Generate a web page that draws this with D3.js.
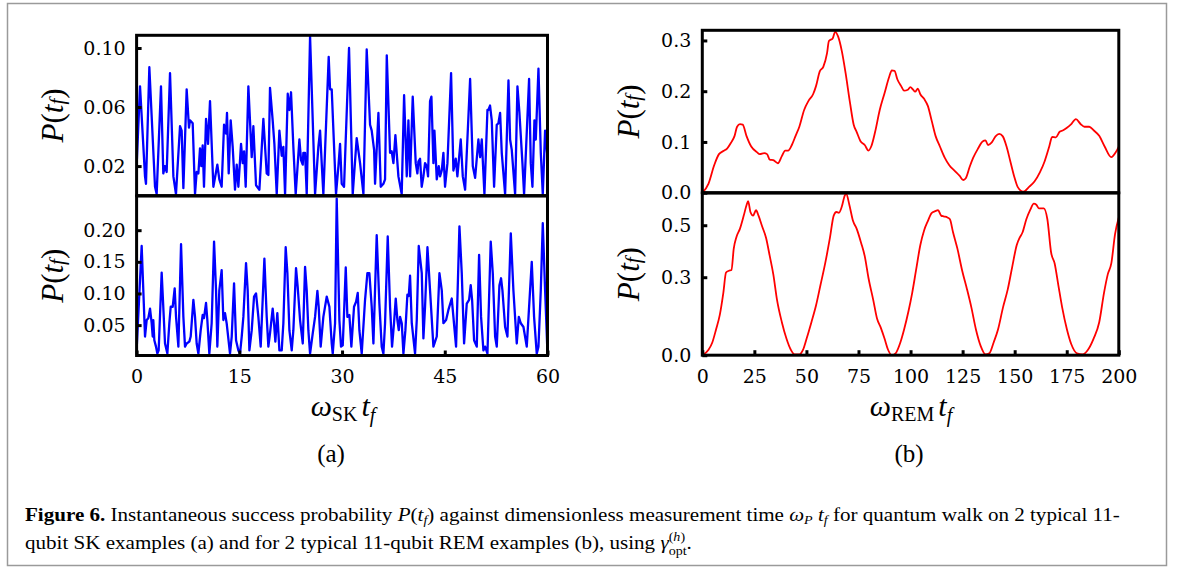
<!DOCTYPE html>
<html><head><meta charset="utf-8">
<script src="https://cdn.jsdelivr.net/npm/d3@7"></script>
<style>
html,body{margin:0;padding:0;background:#fff;}
svg{display:block;}
</style></head>
<body>
<svg id="fig" width="1182" height="573"></svg>
<script>
// ---------- DATA ----------
// (a) top: SK example 1
const tA1 = [0.00,0.50,1.23,1.37,1.86,2.69,2.93,3.56,3.90,4.15,4.39,4.88,5.37,5.75,6.34,6.58,6.83,7.31,7.65,7.80,8.19,8.53,8.77,9.02,9.26,9.45,9.65,9.84,10.14,10.43,10.72,11.21,11.60,11.79,12.08,12.42,12.77,13.06,13.20,13.45,13.74,14.03,14.37,14.62,14.86,15.25,15.49,15.69,15.93,16.32,16.81,17.05,17.44,17.93,18.51,19.00,19.24,19.48,19.87,20.12,20.46,20.85,21.19,21.43,21.68,22.07,22.31,22.55,22.89,23.23,23.77,24.01,24.26,24.35,24.60,24.84,25.33,26.06,26.54,26.79,27.03,27.27,28.05,28.25,28.49,29.12,29.47,29.71,29.95,30.29,31.02,31.56,32.14,32.63,33.12,33.60,34.09,34.33,34.68,34.82,35.31,35.65,36.04,36.28,36.53,37.01,37.25,37.50,37.79,38.23,38.71,39.06,39.45,39.69,39.94,40.32,40.76,41.00,41.15,41.39,41.63,41.88,42.12,42.37,42.56,42.85,43.05,43.34,43.49,43.83,44.12,44.31,44.56,44.80,45.04,45.39,45.92,46.26,46.60,46.84,47.33,47.63,47.97,48.70,49.09,49.43,49.91,50.16,50.40,50.79,51.23,51.37,51.61,51.86,52.20,52.59,52.83,53.08,53.32,53.81,54.30,54.54,54.78,55.27,55.61,55.90,56.34,56.58,57.31,57.56,57.80,58.09,58.29,58.68,59.02,59.31,59.65,60.00];
const pA1 = [0.020,0.074,0.013,0.008,0.087,0.006,0.001,0.074,0.015,0.020,0.016,0.083,0.013,0.001,0.047,0.044,0.005,0.072,0.046,0.051,0.049,0.001,0.016,0.015,0.032,0.020,0.034,0.006,0.052,0.035,0.064,0.006,0.016,0.021,0.011,0.006,0.048,0.042,0.056,0.015,0.051,0.033,0.004,0.021,0.006,0.035,0.022,0.030,0.006,0.074,0.026,0.047,0.007,0.004,0.052,0.015,0.014,0.073,0.051,0.035,0.001,0.044,0.027,0.033,0.001,0.069,0.058,0.070,0.033,0.001,0.038,0.024,0.021,0.029,0.029,0.001,0.108,0.001,0.033,0.044,0.022,0.001,0.094,0.072,0.072,0.001,0.020,0.035,0.008,0.006,0.100,0.001,0.039,0.022,0.001,0.099,0.048,0.044,0.031,0.008,0.056,0.006,0.008,0.011,0.095,0.029,0.030,0.022,0.041,0.013,0.001,0.068,0.013,0.051,0.013,0.067,0.022,0.015,0.023,0.025,0.006,0.013,0.022,0.020,0.013,0.064,0.067,0.022,0.044,0.011,0.020,0.013,0.017,0.029,0.006,0.022,0.083,0.017,0.025,0.013,0.038,0.013,0.004,0.079,0.020,0.012,0.038,0.026,0.038,0.001,0.058,0.058,0.061,0.051,0.006,0.048,0.049,0.056,0.029,0.001,0.078,0.038,0.031,0.001,0.074,0.056,0.022,0.001,0.079,0.022,0.006,0.051,0.038,0.086,0.029,0.001,0.044,0.026];

// (a) bottom: SK example 2
const tA2 = [0.00,0.74,1.23,1.47,1.71,1.96,2.20,2.35,2.44,2.59,2.83,3.03,3.22,3.66,4.15,4.49,4.78,4.98,5.27,5.56,5.76,6.10,6.49,6.83,7.07,7.31,7.70,7.90,8.29,8.53,8.77,9.02,9.36,9.65,9.84,10.14,10.33,10.62,10.96,11.31,11.60,11.79,12.08,12.42,12.67,12.91,13.15,13.64,13.89,14.23,14.52,14.86,15.10,15.35,15.59,15.98,16.22,16.47,16.81,17.15,17.44,17.78,18.12,18.41,18.66,19.00,19.24,19.48,19.87,20.07,20.26,20.55,20.85,21.19,21.43,21.77,22.02,22.31,22.65,22.89,23.28,23.52,23.87,24.26,24.60,24.84,25.08,25.33,25.72,26.06,26.40,26.59,26.88,27.27,27.76,28.15,28.49,28.64,28.98,29.22,29.61,29.85,30.10,30.29,30.54,30.78,31.07,31.36,31.75,32.05,32.29,32.53,32.87,33.36,33.70,33.99,34.33,34.58,35.06,35.45,35.79,36.04,36.28,36.67,37.01,37.30,37.59,37.84,38.08,38.28,38.47,38.72,38.96,39.25,39.54,39.74,39.93,40.18,40.66,40.91,41.20,41.64,41.88,42.12,42.47,42.85,43.34,43.83,44.22,44.56,44.80,45.19,45.53,46.02,46.26,46.65,47.14,47.48,47.82,48.21,48.55,48.79,48.99,49.28,49.67,50.01,50.30,50.64,50.89,51.23,51.71,52.01,52.35,52.59,52.98,53.22,53.42,53.81,54.15,54.64,55.02,55.51,55.81,56.10,56.49,56.97,57.70,58.04,58.43,58.68,59.02,59.31,59.65,60.00];
const pA2 = [0.010,0.175,0.032,0.058,0.061,0.076,0.053,0.032,0.058,0.026,0.016,0.005,0.010,0.133,0.021,0.005,0.053,0.079,0.079,0.108,0.063,0.016,0.178,0.063,0.016,0.021,0.024,0.032,0.090,0.063,0.021,0.005,0.042,0.066,0.061,0.085,0.058,0.005,0.053,0.182,0.105,0.016,0.105,0.137,0.058,0.069,0.053,0.005,0.032,0.116,0.026,0.010,0.005,0.032,0.063,0.148,0.105,0.010,0.042,0.095,0.100,0.063,0.016,0.090,0.155,0.063,0.016,0.037,0.076,0.053,0.024,0.069,0.010,0.010,0.053,0.173,0.132,0.042,0.010,0.042,0.140,0.111,0.058,0.021,0.142,0.105,0.042,0.005,0.037,0.063,0.104,0.079,0.016,0.063,0.095,0.079,0.021,0.005,0.053,0.250,0.058,0.016,0.018,0.069,0.141,0.063,0.066,0.016,0.079,0.087,0.101,0.042,0.005,0.090,0.132,0.132,0.079,0.021,0.192,0.084,0.016,0.005,0.053,0.190,0.079,0.016,0.053,0.092,0.058,0.042,0.063,0.053,0.005,0.042,0.098,0.096,0.128,0.053,0.005,0.058,0.175,0.132,0.029,0.079,0.173,0.105,0.016,0.032,0.132,0.105,0.053,0.058,0.074,0.092,0.063,0.016,0.206,0.132,0.021,0.084,0.090,0.113,0.090,0.026,0.016,0.161,0.063,0.010,0.016,0.005,0.182,0.132,0.032,0.016,0.113,0.124,0.105,0.047,0.032,0.195,0.105,0.021,0.063,0.053,0.047,0.016,0.150,0.063,0.005,0.016,0.105,0.211,0.105,0.004];

// (b) top: REM example 1
const tB1 = [0.0,3.0,5.7,8.0,10.1,11.9,13.7,15.5,16.7,18.1,19.4,21.2,23.5,26.2,27.6,29.7,31.1,32.4,34.1,36.3,38.2,39.8,41.2,43.0,44.8,46.6,48.9,51.0,53.2,54.6,56.4,58.1,59.9,60.8,62.6,63.8,65.2,67.0,68.8,70.9,72.7,74.1,75.9,78.0,79.8,81.2,83.0,85.2,87.5,89.8,91.0,92.3,93.7,95.5,96.9,98.7,99.9,101.2,102.2,103.5,104.7,106.5,108.3,110.2,112.0,114.1,116.4,118.6,121.2,123.6,125.3,126.6,128.4,130.1,132.4,134.6,136.0,137.2,139.0,140.8,142.6,144.3,146.1,147.9,149.7,151.5,154.1,156.8,159.5,162.1,164.4,166.6,168.0,169.8,171.6,173.3,175.1,176.9,179.4,181.7,183.5,185.8,187.9,190.6,193.2,196.4,198.6,200.0];
const pB1 = [0.000,0.018,0.054,0.076,0.082,0.087,0.098,0.112,0.130,0.135,0.134,0.112,0.091,0.080,0.076,0.078,0.076,0.065,0.064,0.058,0.072,0.083,0.083,0.094,0.112,0.130,0.163,0.181,0.194,0.210,0.239,0.248,0.275,0.299,0.304,0.317,0.308,0.279,0.236,0.178,0.134,0.120,0.102,0.094,0.083,0.092,0.120,0.163,0.196,0.229,0.241,0.240,0.223,0.210,0.201,0.203,0.208,0.203,0.199,0.205,0.194,0.185,0.171,0.141,0.112,0.091,0.069,0.054,0.043,0.033,0.025,0.029,0.051,0.069,0.087,0.101,0.103,0.094,0.099,0.111,0.116,0.111,0.091,0.062,0.033,0.011,0.002,0.011,0.022,0.040,0.062,0.091,0.110,0.109,0.120,0.123,0.128,0.134,0.145,0.135,0.130,0.130,0.123,0.112,0.091,0.070,0.080,0.091];

// (b) bottom: REM example 2
const tB2 = [0.0,3.0,4.8,6.6,8.4,10.1,11.4,12.8,14.0,15.1,16.4,18.1,19.9,21.3,22.0,23.1,24.4,25.8,27.0,28.8,30.6,32.4,34.1,35.9,38.2,40.4,42.5,44.3,46.6,48.4,50.1,52.4,54.6,56.7,59.0,61.3,63.1,64.4,65.6,67.0,68.4,69.1,70.6,72.4,74.1,76.3,78.0,79.8,82.1,83.9,85.7,87.5,89.2,91.0,92.8,95.1,96.9,99.0,100.8,102.6,104.7,106.5,108.3,110.1,111.8,113.2,114.7,115.9,117.7,118.9,120.4,122.5,124.8,127.1,129.2,131.4,133.7,136.0,137.8,139.9,142.0,144.4,146.7,148.8,151.0,152.4,153.8,155.6,157.4,159.2,160.4,161.6,164.0,165.7,167.5,169.2,171.0,172.8,175.1,177.2,179.9,182.6,185.2,187.9,190.6,192.9,194.7,196.4,198.2,200.0];
const pB2 = [0.000,0.021,0.049,0.099,0.155,0.240,0.318,0.325,0.328,0.410,0.455,0.487,0.537,0.579,0.593,0.551,0.537,0.558,0.537,0.494,0.452,0.381,0.311,0.212,0.127,0.064,0.021,0.003,0.003,0.021,0.064,0.127,0.191,0.268,0.353,0.452,0.537,0.551,0.548,0.572,0.614,0.621,0.579,0.516,0.487,0.431,0.381,0.297,0.212,0.141,0.106,0.064,0.021,0.000,0.007,0.049,0.099,0.169,0.240,0.325,0.424,0.480,0.516,0.547,0.554,0.558,0.537,0.534,0.530,0.523,0.473,0.410,0.325,0.254,0.184,0.099,0.035,0.003,0.007,0.049,0.099,0.184,0.254,0.339,0.424,0.452,0.473,0.523,0.558,0.583,0.579,0.565,0.565,0.523,0.395,0.353,0.268,0.184,0.099,0.042,0.007,0.003,0.021,0.064,0.127,0.240,0.311,0.353,0.466,0.530];

// tick labels
const xTicksA = [0, 15, 30, 45, 60];
const xTicksB = [0, 25, 50, 75, 100, 125, 150, 175, 200];
const yTicksA1 = [0.02, 0.06, 0.10];
const yTicksA2 = [0.05, 0.10, 0.15, 0.20];
const yTicksB1 = [0.0, 0.1, 0.2, 0.3];
const yTicksB2 = [0.0, 0.3, 0.5];

// ---------- LAYOUT ----------
const svg = d3.select("#fig");
const TICKFONT = "'DejaVu Serif', serif";
const MATHFONT = "'Liberation Serif', 'DejaVu Serif', serif";

// outer gray border
svg.append("rect").attr("x", 7.5).attr("y", 3.5).attr("width", 1159).attr("height", 562)
  .attr("fill", "none").attr("stroke", "#9a9a9a").attr("stroke-width", 1.5);

const panels = [
  {id:"a1", t:tA1, p:pA1, xd:[0,60], xr:[136.6,547.5], yd:[0,0.1086], yr:[195.6,35.3], yt:yTicksA1, fmt:".2f", color:"#0000ff", lw:2.3, xt:null},
  {id:"a2", t:tA2, p:pA2, xd:[0,60], xr:[136.6,547.5], yd:[0.002,0.254], yr:[355.5,196], yt:yTicksA2, fmt:".2f", color:"#0000ff", lw:2.3, xt:xTicksA},
  {id:"b1", t:tB1, p:pB1, xd:[0,200], xr:[702.3,1118.8], yd:[0,0.320], yr:[192.7,30.3], yt:yTicksB1, fmt:".1f", color:"#ff0000", lw:1.8, xt:null},
  {id:"b2", t:tB2, p:pB2, xd:[0,200], xr:[702.3,1118.8], yd:[0,0.624], yr:[355.2,193], yt:yTicksB2, fmt:".1f", color:"#ff0000", lw:1.8, xt:xTicksB}
];

const defs = svg.append("defs");

panels.forEach(pn => {
  const x = d3.scaleLinear().domain(pn.xd).range(pn.xr);
  const y = d3.scaleLinear().domain(pn.yd).range(pn.yr);
  const g = svg.append("g");

  defs.append("clipPath").attr("id", "clip-" + pn.id)
    .append("rect").attr("x", pn.xr[0]).attr("y", pn.yr[1])
    .attr("width", pn.xr[1] - pn.xr[0]).attr("height", pn.yr[0] - pn.yr[1]);

  const data = pn.t.map((tv, i) => [tv, pn.p[i]]);
  const line = d3.line().x(d => x(d[0])).y(d => y(d[1]))
    .curve(pn.id[0] === "b" ? d3.curveMonotoneX : d3.curveLinear);
  g.append("path").datum(data).attr("d", line)
    .attr("fill", "none").attr("stroke", pn.color).attr("stroke-width", pn.lw)
    .attr("stroke-linejoin", "round").attr("clip-path", "url(#clip-" + pn.id + ")");

  // y axis (ticks inward)
  const ya = d3.axisLeft(y).tickValues(pn.yt).tickFormat(d3.format(pn.fmt))
    .tickSizeInner(-5).tickSizeOuter(0).tickPadding(11);
  const yg = g.append("g").attr("transform", `translate(${pn.xr[0]},0)`).call(ya);
  yg.select(".domain").remove();
  yg.selectAll(".tick line").attr("stroke", "#000").attr("stroke-width", 3);
  yg.selectAll(".tick text").attr("font-family", TICKFONT).attr("font-size", 19).attr("fill", "#000");

  if (pn.xt) {
    const xa = d3.axisBottom(x).tickValues(pn.xt).tickFormat(d3.format("d"))
      .tickSizeInner(-5).tickSizeOuter(0).tickPadding(14);
    const xg = g.append("g").attr("transform", `translate(0,${pn.yr[0]})`).call(xa);
    xg.select(".domain").remove();
    xg.selectAll(".tick line").attr("stroke", "#000").attr("stroke-width", 3);
    xg.selectAll(".tick text").attr("font-family", TICKFONT).attr("font-size", 19).attr("fill", "#000");
  }

  // frame
  g.append("rect").attr("x", pn.xr[0]).attr("y", pn.yr[1])
    .attr("width", pn.xr[1] - pn.xr[0]).attr("height", pn.yr[0] - pn.yr[1])
    .attr("fill", "none").attr("stroke", "#000").attr("stroke-width", 3);

  // y label P(t_f)
  const lx = pn.id[0] === "a" ? 52 : 628;
  const ly = (pn.yr[0] + pn.yr[1]) / 2;
  const tl = svg.append("text").attr("transform", `translate(${lx},${ly}) rotate(-90)`)
    .attr("text-anchor", "middle").attr("dominant-baseline", "central")
    .attr("font-family", MATHFONT).attr("font-size", 31).attr("fill", "#000");
  tl.append("tspan").attr("font-style", "italic").text("P");
  tl.append("tspan").text("(");
  tl.append("tspan").attr("font-style", "italic").text("t");
  tl.append("tspan").attr("font-style", "italic").attr("font-size", 21).attr("dy", 5).text("f");
  tl.append("tspan").attr("dy", -5).text(")");
});

// x-axis titles
function xTitle(cx, cy, sub) {
  const t = svg.append("text").attr("x", cx).attr("y", cy).attr("text-anchor", "middle")
    .attr("font-family", MATHFONT).attr("font-size", 30).attr("fill", "#000");
  t.append("tspan").attr("font-style", "italic").text("ω");
  t.append("tspan").attr("font-size", 20).attr("dy", 5).text(sub);
  t.append("tspan").attr("font-style", "italic").attr("dx", 4).attr("dy", -5).text("t");
  t.append("tspan").attr("font-style", "italic").attr("font-size", 20).attr("dy", 6).text("f");
}
xTitle(343, 416, "SK");
xTitle(911, 416, "REM");

svg.append("text").attr("x", 331).attr("y", 462).attr("text-anchor", "middle")
  .attr("font-family", MATHFONT).attr("font-size", 25).text("(a)");
svg.append("text").attr("x", 909).attr("y", 462).attr("text-anchor", "middle")
  .attr("font-family", MATHFONT).attr("font-size", 25).text("(b)");

// ---------- CAPTION ----------
const CAPFONT = "'Liberation Serif', serif";
const c1 = svg.append("text").attr("x", 0).attr("y", 0)
  .attr("font-family", CAPFONT).attr("font-size", 18).attr("fill", "#000");
c1.append("tspan").attr("font-weight", "bold").text("Figure 6.");
c1.append("tspan").text(" Instantaneous success probability ");
c1.append("tspan").attr("font-style", "italic").text("P");
c1.append("tspan").text("(");
c1.append("tspan").attr("font-style", "italic").text("t");
c1.append("tspan").attr("font-style", "italic").attr("font-size", 12).attr("dy", 3).text("f");
c1.append("tspan").attr("dy", -3).text(") against dimensionless measurement time ");
c1.append("tspan").attr("font-style", "italic").text("ω");
c1.append("tspan").attr("font-style", "italic").attr("font-size", 12).attr("dy", 3).text("P");
c1.append("tspan").attr("font-style", "italic").attr("dy", -3).text(" t");
c1.append("tspan").attr("font-style", "italic").attr("font-size", 12).attr("dy", 3).text("f");
c1.append("tspan").attr("dy", -3).text(" for quantum walk on 2 typical 11-");

const c2 = svg.append("text").attr("x", 0).attr("y", 0)
  .attr("font-family", CAPFONT).attr("font-size", 18).attr("fill", "#000");
c2.append("tspan").text("qubit SK examples (a) and for 2 typical 11-qubit REM examples (b), using ");
c2.append("tspan").attr("font-style", "italic").text("γ");
c2.append("tspan").attr("font-size", 12).attr("dy", -8).text("(");
c2.append("tspan").attr("font-size", 12).attr("font-style", "italic").text("h");
c2.append("tspan").attr("font-size", 12).text(")");
c2.append("tspan").attr("font-size", 12).attr("dx", -14).attr("dy", 14).text("opt");
c2.append("tspan").attr("dy", -6).text(".");

const w1 = c1.node().getBBox().width;
const sx = 1096 / w1;
c1.attr("transform", `translate(25,521) scale(${sx},1)`);
c2.attr("transform", `translate(25,549) scale(${sx},1)`);
</script>
</body></html>
